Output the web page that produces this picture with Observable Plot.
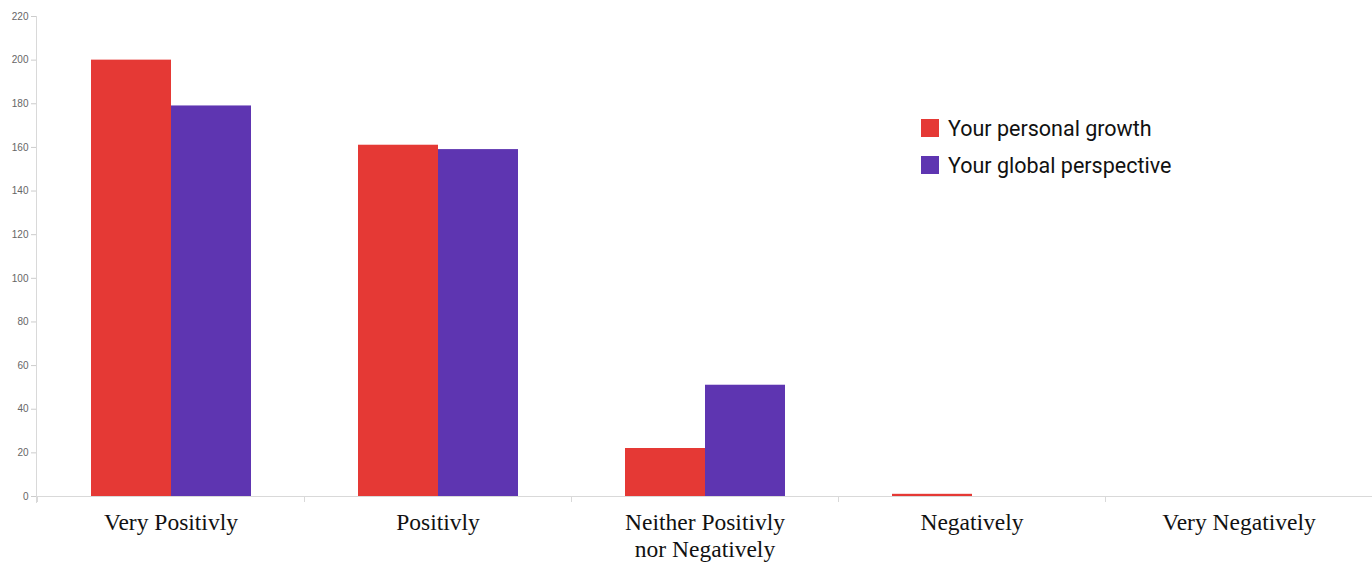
<!DOCTYPE html>
<html><head><meta charset="utf-8">
<script src="https://cdn.jsdelivr.net/npm/d3@7"></script>
<script src="https://cdn.jsdelivr.net/npm/@observablehq/plot@0.6"></script>
<style>
body{margin:0;background:#fff}
#wrap{position:relative;width:1372px;height:562px}
.legend{position:absolute;left:921px;top:117px;font-family:Roboto,"Noto Sans",sans-serif;font-size:21.5px;color:#111}
.legend .row{display:flex;align-items:center;height:22px;margin-bottom:15px}
.legend .sw{width:18px;height:18px;margin-right:9px}
</style>
</head><body><div id="wrap"></div>
<script>
const categories = ["Very Positivly", "Positivly", "Neither Positivly\nnor Negatively", "Negatively", "Very Negatively"];
const series = ["Your personal growth", "Your global perspective"];
const personalGrowth = [200, 161, 22, 1, 0];
const globalPerspective = [179, 159, 51, 0, 0];
const yTicks = [0, 20, 40, 60, 80, 100, 120, 140, 160, 180, 200, 220];
const colors = ["#e53935", "#5e35b1"];

const rows = [];
categories.forEach((c, i) => {
  rows.push({cat: c, series: series[0], value: personalGrowth[i]});
  rows.push({cat: c, series: series[1], value: globalPerspective[i]});
});

const chart = Plot.plot({
  width: 1372, height: 562,
  marginLeft: 36, marginRight: 0, marginTop: 16, marginBottom: 66,
  style: {background: "#fff", overflow: "visible"},
  fx: {domain: categories, padding: 0, axis: null},
  x: {domain: series, paddingInner: 0, paddingOuter: 0.665, axis: null},
  y: {domain: [0, 220], axis: null},
  color: {domain: series, range: colors},
  marks: [
    Plot.ruleY([0], {stroke: "#d9d9d9"}),
    Plot.barY(rows, {fx: "cat", x: "series", y: "value", fill: "series"}),
    Plot.axisY({ticks: yTicks, label: null, tickSize: 6, stroke: "#cccccc", fill: "#666", fontSize: 10, tickPadding: 3, fontFamily: "Liberation Sans, Arial, sans-serif"}),
    Plot.text(categories, {fx: d => d, text: d => d, frameAnchor: "bottom", lineAnchor: "top", dy: 14,
      fontFamily: "Liberation Serif, Times New Roman, serif", fontSize: 23.5, lineHeight: 1.15, fill: "#111"})
  ]
});

const fx = chart.scale("fx");
const y = chart.scale("y");
const svg = d3.select(chart);
const y0 = y.apply(0);
svg.append("line").attr("x1", fx.range[0] + 0.5).attr("x2", fx.range[0] + 0.5)
  .attr("y1", y.apply(220)).attr("y2", y0 + 7).attr("stroke", "#d9d9d9");
categories.forEach(c => {
  const bx = fx.apply(c) + 0.5;
  svg.append("line").attr("x1", bx).attr("x2", bx).attr("y1", y0).attr("y2", y0 + 6).attr("stroke", "#d9d9d9");
});

const wrap = document.getElementById("wrap");
wrap.appendChild(chart);
const legend = document.createElement("div");
legend.className = "legend";
series.forEach((s, i) => {
  const r = document.createElement("div");
  r.className = "row";
  r.innerHTML = `<span class="sw" style="background:${colors[i]}"></span><span>${s}</span>`;
  legend.appendChild(r);
});
wrap.appendChild(legend);
</script>
</body></html>
